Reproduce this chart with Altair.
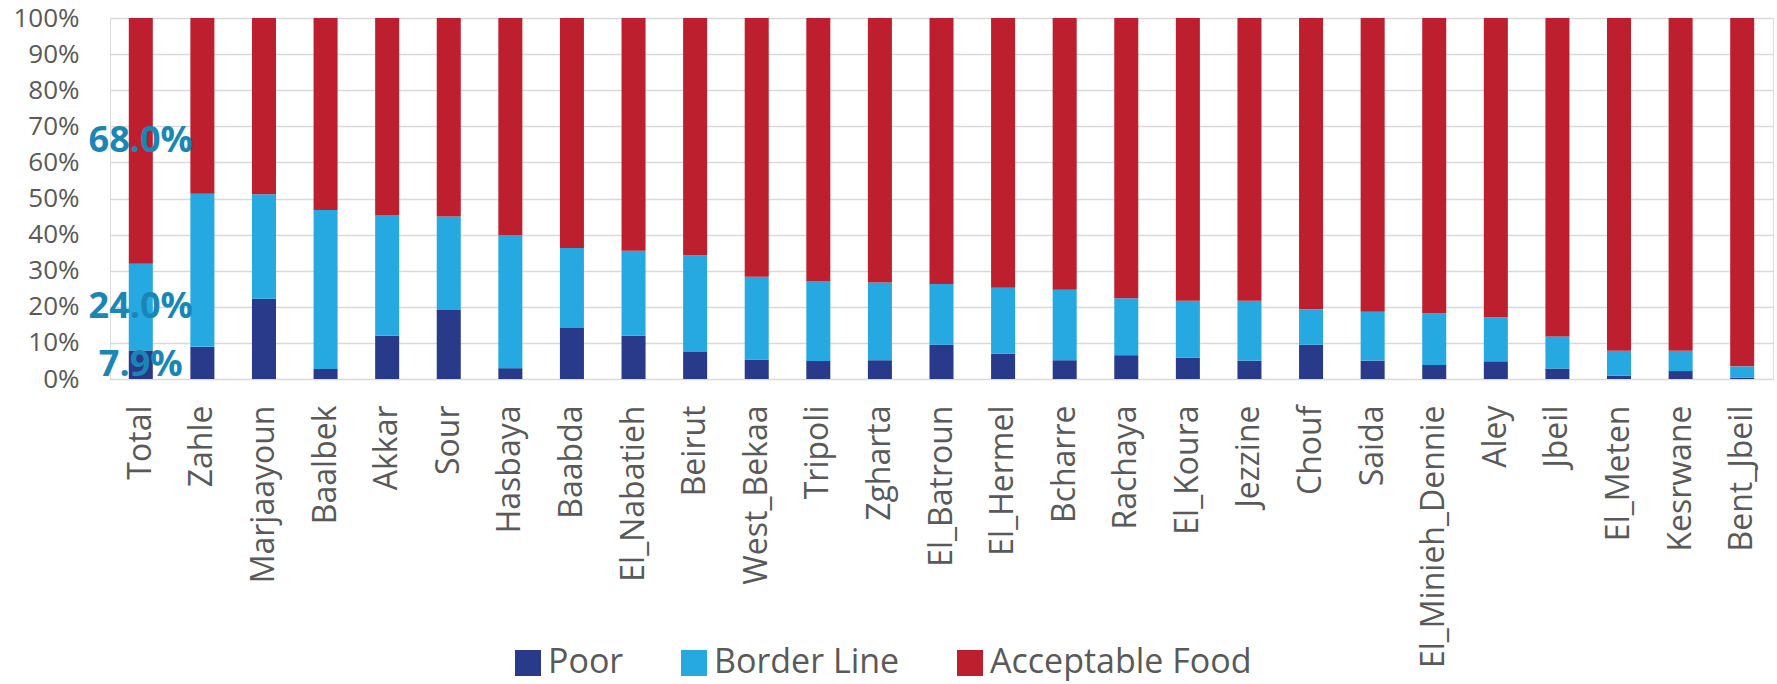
import altair as alt
import pandas as pd

# Food consumption groups by district (% of households)
districts = ["Total", "Zahle", "Marjaayoun", "Baalbek", "Akkar", "Sour", "Hasbaya",
             "Baabda", "El_Nabatieh", "Beirut", "West_Bekaa", "Tripoli", "Zgharta",
             "El_Batroun", "El_Hermel", "Bcharre", "Rachaya", "El_Koura", "Jezzine",
             "Chouf", "Saida", "El_Minieh_Dennie", "Aley", "Jbeil", "El_Meten",
             "Kesrwane", "Bent_Jbeil"]
poor = [7.9, 8.9, 22.2, 2.8, 12.0, 19.1, 3.0, 14.1, 12.0, 7.5, 5.4, 5.0, 5.2, 9.5,
        7.0, 5.2, 6.6, 5.9, 5.1, 9.5, 5.1, 3.9, 4.9, 2.9, 0.9, 2.2, 0.4]
border_line = [24.0, 42.4, 29.0, 44.0, 33.3, 25.9, 36.9, 22.2, 23.5, 26.8, 22.9, 22.0,
               21.5, 16.8, 18.3, 19.5, 15.8, 15.8, 16.6, 9.8, 13.5, 14.3, 12.2, 8.9,
               6.9, 5.6, 3.1]
acceptable = [68.0, 48.7, 48.8, 53.2, 54.7, 55.0, 60.1, 63.7, 64.5, 65.7, 71.7, 73.0,
              73.3, 73.7, 74.7, 75.3, 77.6, 78.3, 78.3, 80.7, 81.4, 81.8, 82.9, 88.2,
              92.2, 92.2, 96.5]

groups = ["Poor", "Border Line", "Acceptable Food"]
colors = ["#2A3A8B", "#25A9E0", "#BE1F2E"]
y_ticks = [0, 0.1, 0.2, 0.3, 0.4, 0.5, 0.6, 0.7, 0.8, 0.9, 1.0]

rows = []
for i, d in enumerate(districts):
    for k, (g, vals) in enumerate(zip(groups, [poor, border_line, acceptable])):
        rows.append({"district": d, "group": g, "order": k, "value": vals[i]})
df = pd.DataFrame(rows)

base = alt.Chart(df).transform_stack(
    stack="value",
    groupby=["district"],
    sort=[alt.SortField("order", order="ascending")],
    as_=["y0", "y1"],
    offset="normalize",
).transform_calculate(
    mid="(datum.y0 + datum.y1) / 2",
    label="format(datum.value, '.1f') + '%'",
)

x_axis = alt.Axis(labelAngle=-90, labelFontSize=32, labelColor="#595959",
                  labelPadding=26, ticks=False, domain=False, grid=False,
                  labelFont="Open Sans", labelLimit=400, labelOverlap=False)
x_scale = alt.Scale(paddingInner=0.61, paddingOuter=0.305)

y_axis = alt.Axis(values=y_ticks, tickCount=11, format=".0%", labelFontSize=26,
                  labelColor="#595959", labelPadding=31, ticks=False,
                  domain=False, grid=True, gridColor="#D9D9D9",
                  gridWidth=1.5, labelFont="Open Sans",
                  labelOverlap=False, labelBound=False)
y_scale = alt.Scale(domain=[0, 1], nice=False)

bars = base.mark_bar().encode(
    x=alt.X("district:N", sort=districts, title=None, scale=x_scale, axis=x_axis),
    y=alt.Y("y0:Q", scale=y_scale, title=None, axis=y_axis),
    y2="y1:Q",
    color=alt.Color("group:N",
                    scale=alt.Scale(domain=groups, range=colors),
                    legend=alt.Legend(title=None, orient="none", direction="horizontal",
                                      legendX=401, legendY=628,
                                      symbolType="square", symbolSize=676,
                                      symbolStrokeWidth=0, labelFontSize=34,
                                      labelFont="Open Sans", labelColor="#595959",
                                      labelOffset=3, columnPadding=53, padding=0,
                                      labelLimit=500)),
)

labels = base.transform_filter(alt.datum.district == "Total").mark_text(
    font="Open Sans", fontWeight="bold", fontSize=36, color="#1A86B6",
    align="center", baseline="middle",
).encode(
    x=alt.X("district:N", sort=districts, title=None, scale=x_scale, axis=x_axis),
    y=alt.Y("mid:Q", scale=y_scale, title=None, axis=y_axis),
    text="label:N",
)

chart = alt.layer(bars, labels).properties(
    width=1663,
    height=361,
    autosize=alt.AutoSizeParams(type="none"),
    padding={"left": 110, "top": 18, "right": 4, "bottom": 305},
    background="white",
).configure_view(stroke=None).configure(font="Open Sans")

chart.save("out.html", embed_options={"renderer": "svg", "actions": False})
